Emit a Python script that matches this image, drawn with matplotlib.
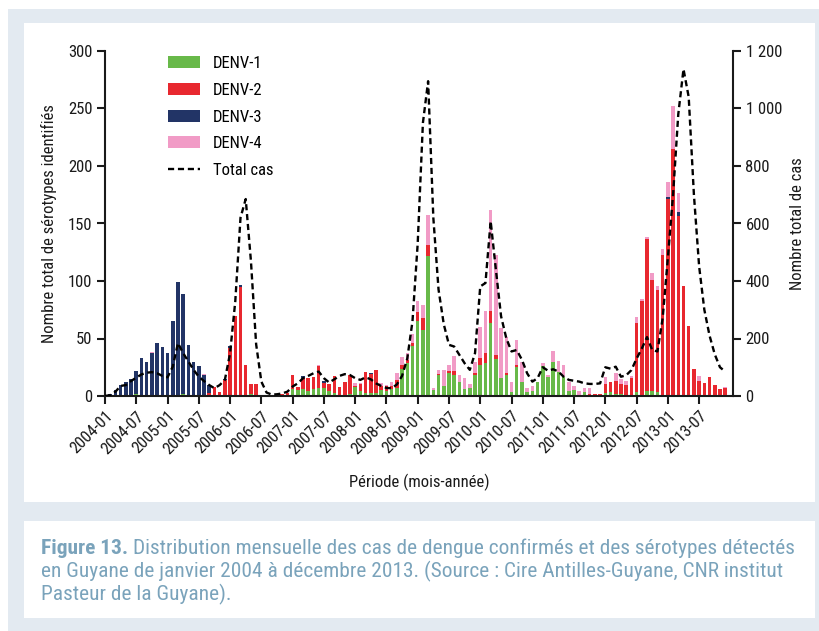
import numpy as np
import matplotlib
matplotlib.use("Agg")
import matplotlib.pyplot as plt
from matplotlib import font_manager as fm
from matplotlib.patches import Rectangle, Patch
from matplotlib.lines import Line2D

avail = {f.name for f in fm.fontManager.ttflist}
FONT = next((f for f in ["Liberation Sans Narrow", "Roboto Condensed", "Open Sans", "DejaVu Sans"] if f in avail), "DejaVu Sans")
plt.rcParams["font.family"] = [FONT, "DejaVu Sans"]

# ---------------- data (monthly, 2004-01 .. 2013-12) ----------------
months = [f"{y}-{m:02d}" for y in range(2004, 2014) for m in range(1, 13)]

denv1 = [0, 0, 0, 0, 0, 0, 2, 0, 0, 0, 0, 0,
         0, 0, 0, 2, 0, 0, 0, 0, 0, 0, 0, 0,
         0, 0, 0, 0, 2, 0, 0, 0, 0, 0, 0, 0,
         6, 5, 6, 4, 6, 7, 7, 4, 3, 1, 1, 2,
         8, 4, 3, 3, 3, 5, 4, 6, 7, 23.3, 28.5, 43.9,
         64.8, 57.6, 122.1, 5.3, 18.3, 9, 19.8, 18.3, 12.5, 5.8, 6.7, 18.3,
         27, 28.5, 63.4, 32, 15.4, 18.3, 3.8, 25.6, 12.5, 3.8, 4.6, 12,
         26.5, 16.3, 30, 21.2, 16.9, 4.7, 5.2, 1, 3.8, 0, 0, 0,
         2.9, 3.8, 1.5, 1.4, 1, 0, 3.8, 0, 4.4, 4, 3.5, 0,
         0, 0, 0, 0, 0, 0, 0, 0, 0, 0, 0, 0]

denv2 = [0, 0, 0, 0, 0, 0, 0, 0, 0, 0, 0, 0,
         0, 0, 0, 0, 0, 0, 0, 0, 3, 7.6, 3.8, 13.5,
         42, 70, 95, 27, 8.8, 10.8, 0, 0, 0, 0, 2, 3,
         12.3, 2.6, 10, 11.4, 10.9, 19, 4, 6.5, 14, 6.6, 11.5, 16,
         1, 6.6, 18, 15.8, 19.7, 4, 5, 3, 7.3, 3.8, 2.9, 2,
         8.1, 10.2, 9.6, 0, 0.9, 0, 2.3, 3.5, 0, 0, 0, 1.5,
         6.4, 8.7, 10.2, 3.8, 0, 1.5, 0, 1.5, 0, 0, 0, 0,
         0, 0, 0, 0, 0, 0, 0, 0, 0, 2, 1.7, 1.7,
         7.6, 8.4, 11.6, 9, 9, 16, 59.6, 82.9, 131.7, 97, 89, 123,
         171.5, 215, 156.4, 95.3, 61.3, 23.3, 13, 11, 16.3, 9.6, 5.8, 7]

denv3 = [0, 2, 5, 10, 12, 14.5, 20, 33, 29.5, 37.5, 46, 43,
         37.5, 65, 99.5, 87, 44, 30, 26, 18, 6.5, 0, 0, 1,
         1.5, 0, 1.8, 0, 0, 0, 0, 0, 0, 0, 0, 0,
         0, 0, 1.7, 0, 0, 0, 2.4, 0, 0, 0, 0, 0,
         0, 0, 0, 1, 0, 0, 0, 0, 0, 0, 0, 0,
         0, 0, 0, 0, 0, 0, 0, 0, 0, 0, 0, 0,
         0, 0, 0, 0, 0, 0, 0, 0, 0, 0, 0, 0,
         0, 0, 0, 0, 0, 0, 0, 0, 0, 0, 0, 0,
         0, 0, 0, 0, 0, 0, 0, 0, 0, 0, 0, 0,
         1.7, 0, 3.5, 0, 0, 0, 0, 0, 0, 0, 0, 0]

denv4 = [0, 0, 0, 0, 0, 0, 0, 0, 0, 1, 0, 0,
         0, 0, 0, 0, 0, 0, 0, 1, 0, 0, 0, 0,
         0, 0, 0, 0, 0, 0, 0, 0, 0, 0, 0, 0,
         0, 0, 0, 0, 0, 1, 0, 0, 0, 0, 0, 0,
         2, 1, 0, 0, 0, 2, 1, 3.5, 5.8, 6.4, 5.8, 8.1,
         9.3, 11.6, 25.6, 2, 3.5, 13.7, 4.9, 13.4, 5.8, 9.6, 3.8, 10.2,
         27, 36.6, 87.8, 87.2, 44, 31.4, 8.7, 21.8, 16.9, 3.5, 4.4, 0,
         2, 2, 8.7, 9.3, 10.2, 7.8, 3.5, 3.6, 3.5, 5.3, 0, 0,
         6.4, 0, 6.7, 4.4, 3, 1.5, 5.2, 1.7, 2.3, 5.8, 3.5, 5.2,
         13, 37.2, 16.9, 0, 0, 0, 4.4, 0, 0, 0, 0, 0.6]

total_cas = [0, 3, 15, 35, 38, 52, 64, 75, 81, 83, 79, 70,
             65, 102, 184, 149, 120, 91, 67, 52, 38, 27, 38, 56,
             149, 330, 620, 685, 470, 180, 50, 12, 5, 6, 9, 15,
             33, 44, 62, 70, 79, 85, 62, 47, 58, 70, 76, 73,
             62, 56, 65, 58, 44, 35, 28, 27, 40, 70, 130, 260,
             530, 950, 1095, 620, 370, 250, 178, 172, 143, 114, 91, 149,
             381, 393, 608, 440, 277, 201, 155, 160, 126, 79, 50, 62,
             100, 88, 93, 85, 67, 56, 53, 50, 44, 42, 42, 44,
             100, 95, 102, 67, 72, 90, 130, 165, 205, 160, 155, 270,
             480, 700, 980, 1137, 1040, 700, 451, 300, 210, 145, 100, 85]

series_names = ["DENV-1", "DENV-2", "DENV-3", "DENV-4"]
colors = ["#68b949", "#e8282f", "#223466", "#f19bc6"]
left_ticks = [0, 50, 100, 150, 200, 250, 300]
right_ticks = [0, 200, 400, 600, 800, 1000, 1200]
right_labels = ["0", "200", "400", "600", "800", "1 000", "1 200"]

# ---------------- figure ----------------
W, H = 819, 631
fig = plt.figure(figsize=(W / 100, H / 100), dpi=100)
fig.patch.set_facecolor("white")

def px_rect(x0, y0, x1, y1, color, z=0):
    fig.patches.append(Rectangle((x0 / W, 1 - y1 / H), (x1 - x0) / W, (y1 - y0) / H,
                                 transform=fig.transFigure, facecolor=color,
                                 edgecolor="none", zorder=z))

px_rect(8, 9, W, H, "#e3eaf1", z=-3)
px_rect(24, 23, 815, 502, "white", z=-2)
px_rect(24, 521, 815, 618, "white", z=-2)

ax = fig.add_axes([105 / W, 1 - 396 / H, (733 - 105) / W, (396 - 51) / H])
ax.set_facecolor("none")
ax2 = ax.twinx()

x = np.arange(len(months))
bottom = np.zeros(len(months))
handles = []
for name, vals, c in zip(series_names, [denv1, denv2, denv3, denv4], colors):
    v = np.array(vals, dtype=float)
    ax.bar(x, v, bottom=bottom, width=0.68, color=c, linewidth=0, zorder=2)
    bottom += v
    handles.append(Patch(facecolor=c, edgecolor="none", label=name))

dash = (0, (2.6, 1.6))
ax2.plot(x, total_cas, color="black", linestyle=dash, linewidth=1.7, zorder=3)
handles.append(Line2D([0], [0], color="black", linestyle=dash, linewidth=1.7, label="Total cas"))

ax.set_xlim(0, 120.5)
ax.set_ylim(0, 300)
ax2.set_ylim(0, 1200)
ax2.set_xlim(0, 120.5)

ax.set_yticks(left_ticks)
ax.set_yticklabels([str(t) for t in left_ticks])
ax2.set_yticks(right_ticks)
ax2.set_yticklabels(right_labels)

xt = list(range(0, 120, 6))
ax.set_xticks(xt)
ax.set_xticklabels([months[i] for i in xt], rotation=45, ha="right", rotation_mode="anchor")

for a in (ax, ax2):
    a.spines["top"].set_visible(False)
    for s in ("left", "right", "bottom"):
        a.spines[s].set_linewidth(1.5)
        a.spines[s].set_color("#1a1a1a")
ax.spines["right"].set_visible(False)
ax2.spines["left"].set_visible(False)
ax2.spines["bottom"].set_visible(False)

ax.tick_params(axis="both", direction="out", length=6, width=1.5, labelsize=12, colors="#1a1a1a", pad=3)
ax2.tick_params(axis="y", direction="out", length=6, width=1.5, labelsize=12, colors="#1a1a1a", pad=3)

ax.set_ylabel("Nombre total de sérotypes identifiés", fontsize=12, color="#1a1a1a", labelpad=8)
ax2.set_ylabel("Nombre total de cas", fontsize=12, color="#1a1a1a", labelpad=6)
ax.set_xlabel("Période (mois-année)", fontsize=12, color="#1a1a1a", labelpad=12)

leg = ax.legend(handles=handles, loc="upper left", bbox_to_anchor=(0.1, 0.985), frameon=False,
                borderaxespad=0, borderpad=0,
                fontsize=12, handlelength=1.95, handleheight=0.75, labelspacing=0.7, handletextpad=0.75)

# caption
cap_col = "#7aa3bb"
cap_fs = 15.4
fig.canvas.draw()
t1 = fig.text(41 / W, 1 - 548 / H, "Figure 13.", fontsize=cap_fs, fontweight="bold", color=cap_col, va="center")
bb = t1.get_window_extent(renderer=fig.canvas.get_renderer())
fig.text((bb.x1 + 5) / W, 1 - 548 / H,
         "Distribution mensuelle des cas de dengue confirmés et des sérotypes détectés",
         fontsize=cap_fs, color=cap_col, va="center")
fig.text(41 / W, 1 - 571 / H, "en Guyane de janvier 2004 à décembre 2013. (Source : Cire Antilles-Guyane, CNR institut",
         fontsize=cap_fs, color=cap_col, va="center")
fig.text(41 / W, 1 - 594 / H, "Pasteur de la Guyane).", fontsize=cap_fs, color=cap_col, va="center")

fig.savefig("out.png", dpi=100, facecolor=fig.get_facecolor())
